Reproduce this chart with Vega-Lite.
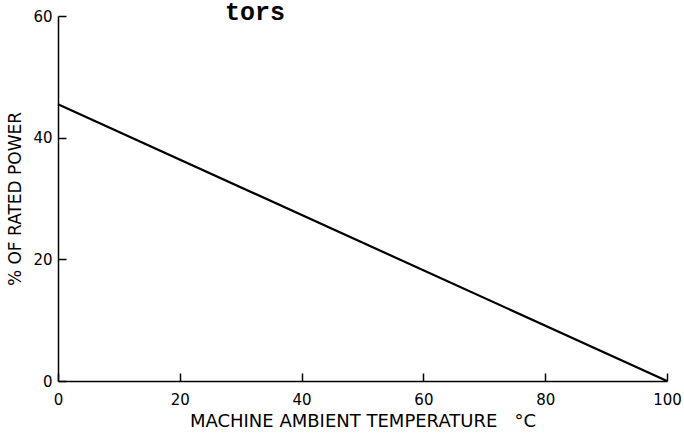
{
  "$schema": "https://vega.github.io/schema/vega-lite/v6.json",
  "autosize": "none",
  "width": 609,
  "height": 365,
  "padding": {"left": 58, "top": 16, "right": 17, "bottom": 56},
  "background": "white",
  "config": {"view": {"stroke": null}},
  "title": {
    "text": "tors",
    "font": "Liberation Mono",
    "fontSize": 25,
    "fontWeight": "bold",
    "color": "black",
    "anchor": "start",
    "frame": "group",
    "dx": 167,
    "offset": -36,
    "baseline": "alphabetic"
  },
  "data": {"values": [
    {"temp": 0, "power": 45.5},
    {"temp": 100, "power": 0}
  ]},
  "mark": {"type": "line", "color": "black", "strokeWidth": 2.2},
  "encoding": {
    "x": {
      "field": "temp", "type": "quantitative",
      "scale": {"domain": [0, 100], "nice": false, "zero": false},
      "axis": {
        "title": "MACHINE AMBIENT TEMPERATURE\u00a0\u00a0\u00a0°C",
        "values": [0, 20, 40, 60, 80, 100],
        "grid": false,
        "labelFlush": false,
        "domainColor": "black", "domainWidth": 1.5,
        "tickColor": "black", "tickWidth": 1.5, "tickSize": -8,
        "labelFont": "DejaVu Sans", "labelFontSize": 15, "labelColor": "black",
        "labelPadding": 19,
        "titleFont": "DejaVu Sans", "titleFontSize": 18, "titleFontWeight": "normal", "titleColor": "black",
        "titlePadding": 5
      }
    },
    "y": {
      "field": "power", "type": "quantitative",
      "scale": {"domain": [0, 60], "nice": false},
      "axis": {
        "title": "% OF RATED POWER",
        "values": [0, 20, 40, 60],
        "grid": false,
        "labelFlush": false,
        "domainColor": "black", "domainWidth": 1.5,
        "tickColor": "black", "tickWidth": 1.5, "tickSize": -8,
        "labelFont": "DejaVu Sans", "labelFontSize": 15, "labelColor": "black",
        "labelPadding": 14,
        "titleFont": "DejaVu Sans", "titleFontSize": 17, "titleFontWeight": "normal", "titleColor": "black",
        "titlePadding": 8
      }
    }
  }
}
